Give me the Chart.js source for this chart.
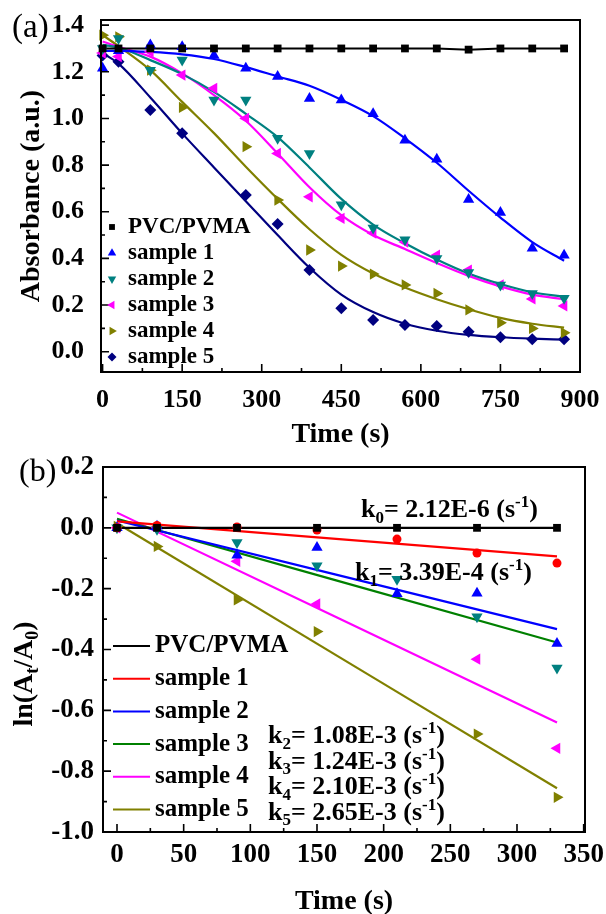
<!DOCTYPE html>
<html>
<head>
<meta charset="utf-8">
<title>Absorbance decay and ln(At/A0) fits</title>
<script src="https://cdn.jsdelivr.net/npm/chart.js"></script>
<style>
  html, body { margin: 0; padding: 0; background: #fff; overflow: hidden; }
  #wrap { position: relative; width: 606px; height: 914px; overflow: hidden; }
  canvas { position: absolute; left: 0; }
  #chartA { top: 0; }
  #chartB { top: 440px; }
</style>
</head>
<body>
<div id="wrap">
  <canvas id="chartA" width="606" height="460"></canvas>
  <canvas id="chartB" width="606" height="490"></canvas>
</div>
<script>
// ---- panel (a): absorbance vs time ----
const timeA = [0, 30, 90, 150, 210, 270, 330, 390, 450, 510, 570, 630, 690, 750, 810, 870];
const pvcA = [1.30, 1.30, 1.30, 1.30, 1.30, 1.30, 1.30, 1.30, 1.30, 1.30, 1.30, 1.30, 1.295, 1.30, 1.30, 1.30];
const s1A = [1.215, 1.29, 1.315, 1.307, 1.27, 1.215, 1.18, 1.086, 1.079, 1.02, 0.907, 0.825, 0.653, 0.597, 0.444, 0.414];
const s2A = [1.30, 1.343, 1.207, 1.25, 1.079, 1.079, 0.915, 0.85, 0.63, 0.53, 0.48, 0.40, 0.34, 0.286, 0.25, 0.229];
const s3A = [1.28, 1.265, 1.286, 1.186, 1.129, 1.0, 0.85, 0.664, 0.572, 0.508, 0.47, 0.414, 0.35, 0.286, 0.226, 0.196];
const s4A = [1.357, 1.35, 1.207, 1.047, null, 0.879, 0.65, 0.436, 0.367, 0.333, 0.286, 0.25, 0.179, 0.124, 0.10, 0.081];
const s5A = [1.27, 1.243, 1.036, 0.936, null, 0.672, 0.547, 0.35, 0.186, 0.136, 0.114, 0.11, 0.086, 0.062, 0.053, 0.053];

// fitted curves at the same times
const fit1A = [1.29, 1.29, 1.285, 1.275, 1.255, 1.22, 1.18, 1.14, 1.08, 1.01, 0.915, 0.81, 0.69, 0.575, 0.47, 0.39];
const fit2A = [1.315, 1.304, 1.25, 1.19, 1.114, 1.02, 0.92, 0.79, 0.655, 0.545, 0.465, 0.395, 0.335, 0.29, 0.255, 0.235];
const fit3A = [1.33, 1.307, 1.265, 1.193, 1.10, 0.99, 0.85, 0.705, 0.585, 0.50, 0.44, 0.38, 0.325, 0.28, 0.245, 0.225];
const fit4A = [1.357, 1.31, 1.207, 1.071, 0.937, 0.793, 0.655, 0.525, 0.415, 0.335, 0.275, 0.225, 0.182, 0.145, 0.12, 0.103];
const fit5A = [1.28, 1.235, 1.09, 0.936, 0.79, 0.645, 0.50, 0.36, 0.245, 0.17, 0.12, 0.09, 0.072, 0.062, 0.056, 0.052];

const xTicksA = [0, 150, 300, 450, 600, 750, 900];
const yTicksA = [0, 0.2, 0.4, 0.6, 0.8, 1.0, 1.2, 1.4];

// ---- panel (b): ln(At/A0) vs time ----
const timeB = [0, 30, 90, 150, 210, 270, 330];
const pvcB = [0, 0, 0, 0, 0, 0, 0];
const s1B = [0, 0.008, 0.003, -0.007, -0.037, -0.083, -0.116];
const s2B = [0, 0.005, -0.09, -0.065, -0.217, -0.215, -0.38];
const s3B = [0, -0.005, -0.048, -0.125, -0.169, -0.292, -0.461];
const s4B = [0, 0, -0.11, -0.25, null, -0.432, -0.725];
const s5B = [0.005, -0.061, -0.237, -0.341, null, -0.678, -0.886];

// linear fits, end points at t = 0 and t = 330
const fitTimeB = [0, 330];
const fit0B = [0, 0];
const fit1B = [0.021, -0.094];
const fit2B = [0.024, -0.333];
const fit3B = [0.03, -0.377];
const fit4B = [0.05, -0.64];
const fit5B = [0.015, -0.856];

const xTicksB = [0, 50, 100, 150, 200, 250, 300, 350];
const yTicksB = [-1.0, -0.8, -0.6, -0.4, -0.2, 0.0, 0.2];

const labels = ['PVC/PVMA', 'sample 1', 'sample 2', 'sample 3', 'sample 4', 'sample 5'];
const rateTexts = ['2.12E-6', '3.39E-4', '1.08E-3', '1.24E-3', '2.10E-3', '2.65E-3'];

const SERIF = "'Liberation Serif', 'Times New Roman', serif";

function pts(xs, ys) {
  return xs.map((x, i) => ({ x: x, y: ys[i] })).filter(p => p.y !== null);
}

function markers(label, xs, ys, color, style, rot, r, inLegend) {
  return {
    label: label, data: pts(xs, ys), showLine: false,
    pointStyle: style, pointRotation: rot, pointRadius: r,
    pointBackgroundColor: color, pointBorderColor: color, pointBorderWidth: 0,
    clip: false, inLegend: inLegend
  };
}

function curve(label, xs, ys, color, inLegend) {
  return {
    label: label, data: pts(xs, ys), showLine: true, pointRadius: 0,
    borderColor: color, backgroundColor: color, borderWidth: 2.2,
    cubicInterpolationMode: 'monotone', fill: false, inLegend: inLegend
  };
}

// drop the label overflow padding so the plot box sits where the layout puts it
function fixSize(prop, size) {
  return s => {
    s[prop] = size;
    s.paddingTop = 0; s.paddingBottom = 0; s.paddingLeft = 0; s.paddingRight = 0;
  };
}

function tickMarks(ctx, scale, vals, a, horiz) {
  ctx.beginPath();
  const mark = (p, len) => {
    if (horiz) { ctx.moveTo(p, a.bottom); ctx.lineTo(p, a.bottom - len); }
    else { ctx.moveTo(a.left, p); ctx.lineTo(a.left + len, p); }
  };
  vals.forEach((v, i) => {
    mark(scale.getPixelForValue(v), 8);
    if (i < vals.length - 1) mark(scale.getPixelForValue((v + vals[i + 1]) / 2), 4);
  });
  ctx.stroke();
}

// text with sub/superscripts, parts = [[text, 'n'|'sub'|'sup'], ...]
function richText(ctx, parts, x, y, size, center) {
  const small = Math.round(size * 0.65);
  const fn = k => 'bold ' + (k === 'n' ? size : small) + 'px ' + SERIF;
  let w = 0;
  parts.forEach(([t, k]) => { ctx.font = fn(k); w += ctx.measureText(t).width; });
  let cx = center ? x - w / 2 : x;
  ctx.textAlign = 'left';
  ctx.textBaseline = 'alphabetic';
  parts.forEach(([t, k]) => {
    ctx.font = fn(k);
    const dy = k === 'sub' ? size * 0.22 : (k === 'sup' ? -size * 0.38 : 0);
    ctx.fillText(t, cx, y + dy);
    cx += ctx.measureText(t).width;
  });
}

function makeDecor(cfg) {
  return {
    id: 'decor',
    afterDraw(chart) {
      const { ctx, chartArea: a, scales } = chart;
      ctx.save();
      ctx.strokeStyle = '#000';
      ctx.fillStyle = '#000';
      ctx.lineWidth = 2;
      ctx.strokeRect(a.left, a.top, a.right - a.left, a.bottom - a.top);
      ctx.lineWidth = 1.6;
      tickMarks(ctx, scales.x, cfg.xTicks, a, true);
      tickMarks(ctx, scales.y, cfg.yTicks, a, false);

      // legend
      const lg = cfg.legend;
      const items = chart.data.datasets.filter(d => d.inLegend);
      items.forEach((d, i) => {
        const y = lg.y + i * lg.dy;
        if (lg.kind === 'marker') {
          ctx.fillStyle = d.pointBackgroundColor;
          Chart.helpers.drawPoint(ctx, { pointStyle: d.pointStyle, rotation: d.pointRotation, radius: d.pointRadius * 0.75, borderWidth: 0 }, lg.x0, y);
        } else {
          ctx.strokeStyle = d.borderColor;
          ctx.lineWidth = 2;
          ctx.beginPath(); ctx.moveTo(lg.x0, y); ctx.lineTo(lg.x1, y); ctx.stroke();
        }
        ctx.fillStyle = '#000';
        ctx.font = 'bold ' + lg.size + 'px ' + SERIF;
        ctx.textBaseline = 'middle';
        ctx.textAlign = 'left';
        ctx.fillText(d.label, lg.textX, y);
      });

      // panel letter
      ctx.fillStyle = '#000';
      ctx.font = cfg.letter.size + 'px ' + SERIF;
      ctx.textBaseline = 'alphabetic';
      ctx.textAlign = 'left';
      ctx.fillText(cfg.letter.text, cfg.letter.x, cfg.letter.y);

      // notes
      (cfg.notes || []).forEach(n => richText(ctx, n.parts, n.x, n.y, n.size, false));

      // rotated y title with subscripts
      if (cfg.yTitle) {
        ctx.save();
        ctx.translate(cfg.yTitle.x, cfg.yTitle.y);
        ctx.rotate(-Math.PI / 2);
        richText(ctx, cfg.yTitle.parts, 0, 0, cfg.yTitle.size, true);
        ctx.restore();
      }
      ctx.restore();
    }
  };
}

function tickFont(size) { return { family: SERIF, size: size, weight: 'bold' }; }

// ---------- chart (a) ----------
new Chart(document.getElementById('chartA'), {
  type: 'scatter',
  data: {
    datasets: [
      markers(labels[0], timeA, pvcA, '#000000', 'rect', 0, 5.5, true),
      markers(labels[1], timeA, s1A, '#0000ff', 'triangle', 0, 6.5, true),
      markers(labels[2], timeA, s2A, '#008080', 'triangle', 180, 6.5, true),
      markers(labels[3], timeA, s3A, '#ff00ff', 'triangle', 270, 6.5, true),
      markers(labels[4], timeA, s4A, '#808000', 'triangle', 90, 6.5, true),
      markers(labels[5], timeA, s5A, '#000080', 'rectRot', 0, 6, true),
      Object.assign(curve('pvc line', timeA, pvcA, '#000000', false), { cubicInterpolationMode: 'default', tension: 0, borderWidth: 2 }),
      curve('fit 1', timeA, fit1A, '#0000ff', false),
      curve('fit 2', timeA, fit2A, '#008080', false),
      curve('fit 3', timeA, fit3A, '#ff00ff', false),
      curve('fit 4', timeA, fit4A, '#808000', false),
      curve('fit 5', timeA, fit5A, '#000080', false)
    ]
  },
  options: {
    responsive: false, animation: false, events: [],
    layout: { padding: { left: 0, top: 20, right: 26, bottom: 0 } },
    plugins: { legend: { display: false }, tooltip: { enabled: false } },
    scales: {
      x: {
        type: 'linear', position: 'bottom', min: -3, max: 900,
        afterBuildTicks: s => { s.ticks = xTicksA.map(v => ({ value: v })); },
        afterFit: fixSize('height', 88),
        grid: { display: false, drawTicks: false }, border: { display: false },
        ticks: { padding: 13, color: '#000', font: tickFont(26), maxRotation: 0, autoSkip: false },
        title: { display: true, text: 'Time (s)', color: '#000', font: tickFont(28), padding: { top: 0, bottom: 8 } }
      },
      y: {
        type: 'linear', position: 'left', min: -0.087, max: 1.422,
        afterBuildTicks: s => { s.ticks = yTicksA.map(v => ({ value: v })); },
        afterFit: fixSize('width', 101),
        grid: { display: false, drawTicks: false }, border: { display: false },
        ticks: { padding: 17, color: '#000', font: tickFont(26), autoSkip: false, callback: v => Number(v).toFixed(1) },
        title: { display: true, text: 'Absorbance (a.u.)', color: '#000', font: tickFont(28), padding: { top: 15, bottom: 0 } }
      }
    }
  },
  plugins: [makeDecor({
    xTicks: xTicksA, yTicks: yTicksA,
    legend: { kind: 'marker', size: 23, x0: 112, textX: 128, y: 227, dy: 26 },
    letter: { text: '(a)', x: 12, y: 37, size: 33 }
  })]
});

// ---------- chart (b) ----------
const noteSize = 26;
const kParts = (i) => [['k', 'n'], [String(i), 'sub'], ['= ' + rateTexts[i] + ' (s', 'n'], ['-1', 'sup'], [')', 'n']];

new Chart(document.getElementById('chartB'), {
  type: 'scatter',
  data: {
    datasets: [
      markers('pvc pts', timeB, pvcB, '#000000', 'rect', 0, 5.5, false),
      markers('s1 pts', timeB, s1B, '#ff0000', 'circle', 0, 4.5, false),
      markers('s2 pts', timeB, s2B, '#0000ff', 'triangle', 0, 6.5, false),
      markers('s3 pts', timeB, s3B, '#008080', 'triangle', 180, 6.5, false),
      markers('s4 pts', timeB, s4B, '#ff00ff', 'triangle', 270, 6.5, false),
      markers('s5 pts', timeB, s5B, '#808000', 'triangle', 90, 6.5, false),
      curve(labels[0], fitTimeB, fit0B, '#000000', true),
      curve(labels[1], fitTimeB, fit1B, '#ff0000', true),
      curve(labels[2], fitTimeB, fit2B, '#0000ff', true),
      curve(labels[3], fitTimeB, fit3B, '#008000', true),
      curve(labels[4], fitTimeB, fit4B, '#ff00ff', true),
      curve(labels[5], fitTimeB, fit5B, '#808000', true)
    ]
  },
  options: {
    responsive: false, animation: false, events: [],
    layout: { padding: { left: 0, top: 27, right: 21, bottom: 0 } },
    plugins: { legend: { display: false }, tooltip: { enabled: false } },
    scales: {
      x: {
        type: 'linear', position: 'bottom', min: -10.5, max: 351,
        afterBuildTicks: s => { s.ticks = xTicksB.map(v => ({ value: v })); },
        afterFit: fixSize('height', 98),
        grid: { display: false, drawTicks: false }, border: { display: false },
        ticks: { padding: 7, color: '#000', font: tickFont(27), maxRotation: 0, autoSkip: false },
        title: { display: true, text: 'Time (s)', color: '#000', font: tickFont(28), padding: { top: 0, bottom: 11 } }
      },
      y: {
        type: 'linear', position: 'left', min: -1.0, max: 0.2,
        afterBuildTicks: s => { s.ticks = yTicksB.map(v => ({ value: v })); },
        afterFit: fixSize('width', 103),
        grid: { display: false, drawTicks: false }, border: { display: false },
        ticks: { padding: 9, color: '#000', font: tickFont(27), autoSkip: false, callback: v => Number(v).toFixed(1) }
      }
    }
  },
  plugins: [makeDecor({
    xTicks: xTicksB, yTicks: yTicksB,
    legend: { kind: 'line', size: 25, x0: 113, x1: 150, textX: 155, y: 206, dy: 32.7 },
    letter: { text: '(b)', x: 19, y: 41, size: 32 },
    notes: [
      { parts: kParts(0), x: 361, y: 77, size: noteSize },
      { parts: kParts(1), x: 355, y: 140, size: noteSize },
      { parts: kParts(2), x: 268, y: 303, size: noteSize },
      { parts: kParts(3), x: 268, y: 328.5, size: noteSize },
      { parts: kParts(4), x: 268, y: 354, size: noteSize },
      { parts: kParts(5), x: 268, y: 379.5, size: noteSize }
    ],
    yTitle: { parts: [['ln(A', 'n'], ['t', 'sub'], ['/A', 'n'], ['0', 'sub'], [')', 'n']], x: 32, y: 234, size: 28 }
  })]
});
</script>
</body>
</html>
